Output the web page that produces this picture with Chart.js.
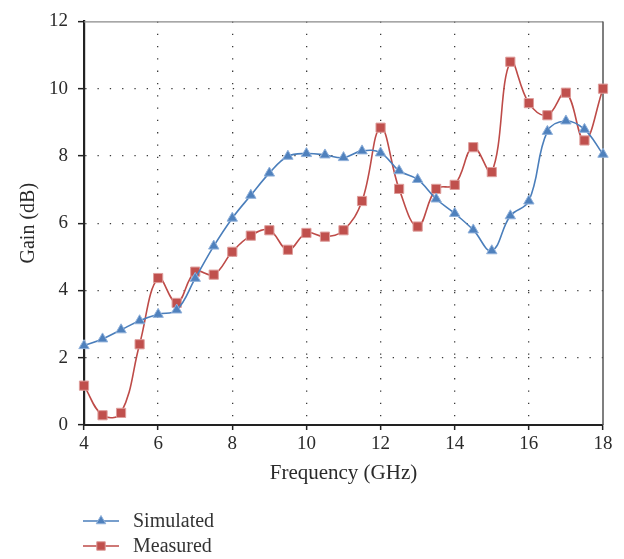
<!DOCTYPE html>
<html>
<head>
<meta charset="utf-8">
<script src="https://cdn.jsdelivr.net/npm/chart.js@4/dist/chart.umd.min.js"></script>
<style>
  html, body { margin: 0; padding: 0; background: #fff; }
  #wrap { position: relative; width: 624px; height: 559px; }
</style>
</head>
<body>
<div id="wrap"><canvas id="c"></canvas></div>
<script>
// ---- data ----
const frequency = [4, 4.5, 5, 5.5, 6, 6.5, 7, 7.5, 8, 8.5, 9, 9.5, 10, 10.5, 11, 11.5, 12, 12.5, 13, 13.5, 14, 14.5, 15, 15.5, 16, 16.5, 17, 17.5, 18];
const simulated = [2.36, 2.56, 2.83, 3.10, 3.29, 3.42, 4.36, 5.32, 6.15, 6.83, 7.49, 7.99, 8.07, 8.03, 7.95, 8.15, 8.09, 7.56, 7.30, 6.72, 6.29, 5.80, 5.18, 6.22, 6.66, 8.73, 9.04, 8.79, 8.05];
const measured = [1.17, 0.29, 0.36, 2.40, 4.37, 3.63, 4.56, 4.47, 5.15, 5.63, 5.79, 5.21, 5.71, 5.60, 5.79, 6.66, 8.84, 7.02, 5.90, 7.02, 7.14, 8.26, 7.52, 10.80, 9.57, 9.21, 9.88, 8.46, 10.00];
const seriesNames = ['Simulated', 'Measured'];
const xTicks = [4, 6, 8, 10, 12, 14, 16, 18];
const yTicks = [0, 2, 4, 6, 8, 10, 12];
const xTitle = 'Frequency (GHz)';
const yTitle = 'Gain (dB)';

const BLUE = '#4A7EBB', BLUE_PT = '#4F81BD', BLUE_EDGE = '#8FB0DA';
const RED = '#BE4B48', RED_PT = '#C0504D', RED_EDGE = '#DE9E9C';
const FONT = "'Liberation Serif', 'Times New Roman', serif";

const toXY = arr => arr.map((v, i) => ({ x: frequency[i], y: v }));

const frameAndLegend = {
  id: 'frameAndLegend',
  beforeDatasetsDraw(chart) {
    const { ctx, chartArea: a } = chart;
    ctx.save();
    ctx.strokeStyle = '#8a8a8a';
    ctx.lineWidth = 1.2;
    ctx.beginPath();
    ctx.moveTo(a.left, a.top + 0.5);
    ctx.lineTo(a.right, a.top + 0.5);
    ctx.stroke();
    ctx.strokeStyle = '#555';
    ctx.lineWidth = 1.5;
    ctx.beginPath();
    ctx.moveTo(a.right, a.top);
    ctx.lineTo(a.right, a.bottom);
    ctx.stroke();
    ctx.restore();
  },
  afterDraw(chart) {
    const { ctx } = chart;
    const rows = [521, 546];
    chart.data.datasets.forEach((ds, i) => {
      const y = rows[i];
      ctx.save();
      ctx.strokeStyle = ds.borderColor;
      ctx.lineWidth = ds.borderWidth;
      ctx.beginPath();
      ctx.moveTo(83, y);
      ctx.lineTo(119, y);
      ctx.stroke();
      ctx.fillStyle = ds.pointBackgroundColor;
      ctx.strokeStyle = ds.pointBorderColor;
      ctx.lineWidth = 1;
      ctx.beginPath();
      if (ds.pointStyle === 'triangle') {
        const r = ds.pointRadius - 0.5;
        ctx.moveTo(101, y - r);
        ctx.lineTo(101 + r * 0.866, y + r * 0.5);
        ctx.lineTo(101 - r * 0.866, y + r * 0.5);
        ctx.closePath();
      } else {
        const s = (ds.pointRadius - 0.5) * Math.SQRT1_2;
        ctx.rect(101 - s, y - s, 2 * s, 2 * s);
      }
      ctx.fill();
      ctx.stroke();
      ctx.fillStyle = '#333';
      ctx.font = '20px ' + FONT;
      ctx.textBaseline = 'middle';
      ctx.textAlign = 'left';
      ctx.fillText(ds.label, 133, y + 1);
      ctx.restore();
    });
  }
};

const gridColor = edges => c => (edges.includes(c.tick && c.tick.value) ? 'rgba(0,0,0,0)' : '#3a3a3a');

new Chart(document.getElementById('c'), {
  type: 'line',
  data: {
    datasets: [
      {
        label: seriesNames[0],
        data: toXY(simulated),
        borderColor: BLUE,
        borderWidth: 1.6,
        pointStyle: 'triangle',
        pointRadius: 6,
        pointBackgroundColor: BLUE_PT,
        pointBorderColor: BLUE_EDGE,
        pointBorderWidth: 1,
        tension: 0.4,
        clip: false
      },
      {
        label: seriesNames[1],
        data: toXY(measured),
        borderColor: RED,
        borderWidth: 1.6,
        pointStyle: 'rect',
        pointRadius: 6.5,
        pointBackgroundColor: RED_PT,
        pointBorderColor: RED_EDGE,
        pointBorderWidth: 1,
        tension: 0.4,
        clip: false
      }
    ]
  },
  options: {
    responsive: true,
    maintainAspectRatio: false,
    animation: false,
    layout: { padding: { left: 0, top: 18, right: 21, bottom: 69 } },
    plugins: { legend: { display: false }, tooltip: { enabled: false } },
    scales: {
      x: {
        type: 'linear',
        min: 4, max: 18,
        afterBuildTicks: s => { s.ticks = xTicks.map(v => ({ value: v })); },
        afterFit: s => { s.height = 65; },
        ticks: { color: '#2a2a2a', font: { family: FONT, size: 19 }, padding: 3, maxRotation: 0 },
        grid: {
          color: gridColor([4, 18]),
          lineWidth: 1.3,
          drawTicks: true,
          tickLength: 5,
          tickColor: '#222',
          tickWidth: 1.5,
          tickBorderDash: []
        },
        border: { display: true, color: '#222', width: 2, dash: [1.3, 11] },
        title: { display: true, text: xTitle, color: '#2a2a2a', font: { family: FONT, size: 21 }, padding: { top: 0, bottom: 4 } }
      },
      y: {
        min: 0, max: 12,
        afterBuildTicks: s => { s.ticks = yTicks.map(v => ({ value: v })); },
        afterFit: s => { s.width = 84; },
        ticks: { color: '#2a2a2a', font: { family: FONT, size: 19 }, padding: 10 },
        grid: {
          color: gridColor([0, 12]),
          lineWidth: 1.3,
          drawTicks: true,
          tickLength: 6,
          tickColor: '#222',
          tickWidth: 1.5,
          tickBorderDash: []
        },
        border: { display: true, color: '#222', width: 2.2, dash: [1.3, 11] },
        title: { display: true, text: yTitle, color: '#2a2a2a', font: { family: FONT, size: 20 }, padding: { top: 17, bottom: 0 } }
      }
    }
  },
  plugins: [frameAndLegend]
});
</script>
</body>
</html>
